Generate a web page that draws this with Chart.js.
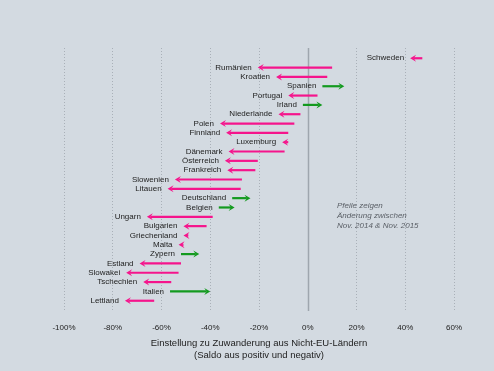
<!DOCTYPE html>
<html lang="de">
<head>
  <meta charset="UTF-8">
  <title>Einstellung zu Zuwanderung</title>
  <style>
    html, body { margin: 0; padding: 0; background: #d3dae1; }
    #chartContainer { width: 494px; height: 371px; }
  </style>
  <script src="https://cdn.jsdelivr.net/npm/chart.js"></script>
</head>
<body>
  <div id="chartContainer">
    <canvas id="chartCanvas" width="494" height="371"></canvas>
  </div>

  <script>
    // Laender von oben nach unten
    const countries = ["Schweden", "Rumänien", "Kroatien", "Spanien", "Portugal", "Irland",
      "Niederlande", "Polen", "Finnland", "Luxemburg", "Dänemark", "Österreich", "Frankreich",
      "Slowenien", "Litauen", "Deutschland", "Belgien", "Ungarn", "Bulgarien", "Griechenland",
      "Malta", "Zypern", "Estland", "Slowakei", "Tschechien", "Italien", "Lettland"];

    // Saldo Nov. 2014 (Pfeilanfang) und Nov. 2015 (Pfeilspitze), in Prozent
    const nov2014 = [47, 10, 8, 6, 4, -2, -3, -5.5, -8, -8, -9.5, -20.5, -21.5,
      -27, -27.5, -31, -36.5, -39, -41.5, -49, -51, -52, -52, -53, -56, -56.5, -63];
    const nov2015 = [42, -20.5, -13, 15, -8, 6, -12, -36, -33.5, -10.5, -32.5, -34, -33,
      -54.5, -57.5, -23.5, -30, -66, -51, -51, -53, -44.5, -69, -74.5, -67.5, -40, -75];

    const tickValues = [-100, -80, -60, -40, -20, 0, 20, 40, 60];
    const noteLines = ["Pfeile zeigen", "Änderung zwischen", "Nov. 2014 & Nov. 2015"];

    const pink = "#f5148c";
    const green = "#139a1f";
    const fontFamily = "'Liberation Sans', Arial, sans-serif";

    const arrowPlugin = {
      id: "arrows",
      beforeDatasetsDraw(chart) {
        const ctx = chart.ctx;
        const x = chart.scales.x;
        const area = chart.chartArea;
        const zx = Math.round(x.getPixelForValue(0)) + 0.5;
        ctx.save();
        ctx.strokeStyle = "#9ea6ae";
        ctx.lineWidth = 1.5;
        ctx.beginPath();
        ctx.moveTo(zx, area.top);
        ctx.lineTo(zx, area.bottom);
        ctx.stroke();
        ctx.restore();
      },
      afterDatasetsDraw(chart) {
        const ctx = chart.ctx;
        const x = chart.scales.x;
        const y = chart.scales.y;
        ctx.save();
        countries.forEach((name, i) => {
          const x0 = x.getPixelForValue(nov2014[i]);
          const x1 = x.getPixelForValue(nov2015[i]);
          const yy = y.getPixelForValue(i);
          const col = nov2015[i] > nov2014[i] ? green : pink;
          const dir = x1 > x0 ? 1 : -1;
          const head = 6;
          ctx.strokeStyle = col;
          ctx.fillStyle = col;
          ctx.lineWidth = 2.2;
          ctx.beginPath();
          ctx.moveTo(x0, yy);
          ctx.lineTo(x1 - dir * head * 0.6, yy);
          ctx.stroke();
          ctx.beginPath();
          ctx.moveTo(x1, yy);
          ctx.lineTo(x1 - dir * head, yy - 3.5);
          ctx.lineTo(x1 - dir * head * 0.6, yy);
          ctx.lineTo(x1 - dir * head, yy + 3.5);
          ctx.closePath();
          ctx.fill();

          // Beschriftung links vom Pfeil
          const left = Math.min(x0, x1);
          ctx.fillStyle = "#222";
          ctx.font = "8px " + fontFamily;
          ctx.textAlign = "right";
          ctx.textBaseline = "middle";
          ctx.fillText(name, left - 6, yy);
        });

        // Hinweis
        ctx.fillStyle = "#5a5f66";
        ctx.font = "italic 8px " + fontFamily;
        ctx.textAlign = "left";
        ctx.textBaseline = "middle";
        const nx = x.getPixelForValue(12);
        noteLines.forEach((t, k) => {
          ctx.fillText(t, nx, y.getPixelForValue(15.8) + k * 10);
        });
        ctx.restore();
      }
    };

    const points = countries.map((c, i) => ({ x: nov2014[i], y: i }));

    new Chart(document.getElementById("chartCanvas"), {
      type: "scatter",
      data: {
        datasets: [{
          data: points,
          pointRadius: 0,
          showLine: false
        }]
      },
      options: {
        responsive: false,
        animation: false,
        maintainAspectRatio: false,
        layout: { padding: { left: 64, right: 40, top: 48, bottom: 9.3 } },
        plugins: {
          legend: { display: false },
          tooltip: { enabled: false }
        },
        scales: {
          x: {
            type: "linear",
            min: -100,
            max: 60,
            afterBuildTicks(scale) {
              scale.ticks = tickValues.map(v => ({ value: v }));
            },
            ticks: {
              autoSkip: false,
              maxRotation: 0,
              color: "#222",
              padding: 2.2,
              font: { family: fontFamily, size: 8 },
              callback: v => v + "%"
            },
            grid: {
              color: ctx => ctx.tick && ctx.tick.value === 0 ? "rgba(0,0,0,0)" : "#a9b0b8",
              lineWidth: 1,
              drawTicks: true,
              tickLength: 10,
              tickColor: "rgba(0,0,0,0)"
            },
            border: { display: false, dash: [1, 2] },
            title: {
              display: true,
              text: ["Einstellung zu Zuwanderung aus Nicht-EU-Ländern", "(Saldo aus positiv und negativ)"],
              color: "#222",
              font: { family: fontFamily, size: 9.5, lineHeight: 1.3 },
              padding: { top: 2, bottom: 0 }
            }
          },
          y: {
            type: "linear",
            display: false,
            reverse: true,
            min: -1.1,
            max: 27.1
          }
        }
      },
      plugins: [arrowPlugin]
    });
  </script>
</body>
</html>
